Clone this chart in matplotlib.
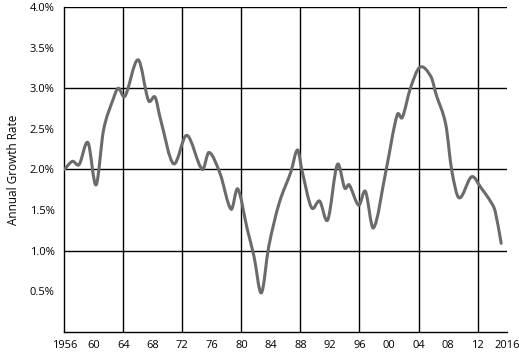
import matplotlib
matplotlib.use("Agg")
import matplotlib.pyplot as plt
from matplotlib.path import Path
from matplotlib.patches import PathPatch

# annual growth rate (%)
years = [1956.0, 1957.1, 1958.0, 1959.2, 1960.3, 1961.3, 1962.6, 1963.3, 1964.2,
         1966.0, 1967.4, 1968.3, 1969.0, 1970.8, 1972.6, 1974.7, 1975.6, 1977.1,
         1978.6, 1979.5, 1980.8, 1981.7, 1982.7, 1983.7, 1985.1, 1986.7, 1987.6,
         1988.2, 1989.5, 1990.6, 1991.7, 1993.0, 1994.0, 1994.6, 1995.9, 1996.8,
         1997.9, 1999.6, 2001.1, 2001.8, 2002.9, 2004.2, 2005.7, 2006.4, 2007.7,
         2008.5, 2009.5, 2011.2, 2012.5, 2013.8, 2014.4, 2015.2]
growth = [2.00, 2.10, 2.06, 2.33, 1.81, 2.48, 2.86, 3.00, 2.90,
          3.35, 2.85, 2.89, 2.63, 2.07, 2.42, 2.00, 2.21, 1.95,
          1.51, 1.76, 1.26, 0.93, 0.48, 1.05, 1.58, 1.97, 2.24,
          1.99, 1.53, 1.61, 1.38, 2.06, 1.77, 1.81, 1.56, 1.73,
          1.28, 1.99, 2.67, 2.64, 3.00, 3.26, 3.14, 2.92, 2.55,
          1.99, 1.65, 1.91, 1.77, 1.60, 1.48, 1.09]

x_ticks = list(range(1956, 2017, 4))
x_labels = ["1956", "60", "64", "68", "72", "76", "80", "84", "88",
            "92", "96", "00", "04", "08", "12", "2016"]
y_ticks = [0.5, 1.0, 1.5, 2.0, 2.5, 3.0, 3.5, 4.0]


def smooth_path(xs, ys):
    """Cubic Hermite curve through the points, as Bezier segments."""
    n = len(xs)
    slopes = []
    for i in range(n):
        lo, hi = max(i - 1, 0), min(i + 1, n - 1)
        slopes.append((ys[hi] - ys[lo]) / (xs[hi] - xs[lo]))
    verts = [(xs[0], ys[0])]
    codes = [Path.MOVETO]
    for i in range(n - 1):
        dx = (xs[i + 1] - xs[i]) / 3
        verts += [(xs[i] + dx, ys[i] + slopes[i] * dx),
                  (xs[i + 1] - dx, ys[i + 1] - slopes[i + 1] * dx),
                  (xs[i + 1], ys[i + 1])]
        codes += [Path.CURVE4] * 3
    return Path(verts, codes)


plt.rcParams['font.family'] = ['Open Sans', 'DejaVu Sans']

fig = plt.figure(figsize=(5.19, 3.53), dpi=100)
ax = fig.add_axes([0.124, 0.06, 0.853, 0.92])

for y in [1, 2, 3, 4]:
    ax.axhline(y, color='black', lw=1.0, zorder=1)
for x in range(1964, 2016, 8):
    ax.axvline(x, color='black', lw=1.0, zorder=1)

ax.add_patch(PathPatch(smooth_path(years, growth), facecolor='none',
                       edgecolor='#6b6b6b', lw=2.2, capstyle='round',
                       joinstyle='round', zorder=3))

ax.set_xlim(1956, 2016)
ax.set_ylim(0, 4)
ax.set_xticks(x_ticks)
ax.set_xticklabels(x_labels)
ax.set_yticks(y_ticks)
ax.set_yticklabels(["%.1f%%" % v for v in y_ticks])
ax.tick_params(length=0, labelsize=8)
ax.tick_params(axis='y', pad=7)
ax.tick_params(axis='x', pad=6)
ax.set_ylabel("Annual Growth Rate", fontsize=8.5, labelpad=7)

for side in ['top', 'right']:
    ax.spines[side].set_visible(False)
for side in ['left', 'bottom']:
    ax.spines[side].set_linewidth(1.0)

fig.savefig("out.png", dpi=100)
